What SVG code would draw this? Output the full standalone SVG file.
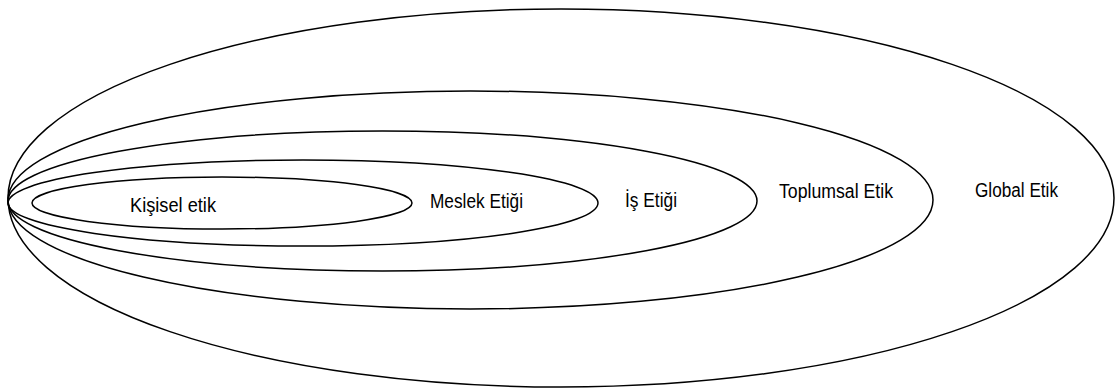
<svg xmlns="http://www.w3.org/2000/svg" width="1116" height="392" viewBox="0 0 1116 392">
<style>
.ring{fill:none;stroke:#000;stroke-width:1.5}
.lbl{font-family:"Liberation Sans",Arial,sans-serif;font-size:20px;fill:#000}
</style>
<rect width="1116" height="392" fill="#fff"/>
<g id="global"><ellipse class="ring" cx="561" cy="198" rx="553" ry="189"/><text class="lbl" x="975" y="197" textLength="83" lengthAdjust="spacingAndGlyphs">Global Etik</text></g>
<g id="toplumsal"><ellipse class="ring" cx="470.5" cy="200" rx="462.5" ry="109"/><text class="lbl" x="779" y="198" textLength="114" lengthAdjust="spacingAndGlyphs">Toplumsal Etik</text></g>
<g id="is"><ellipse class="ring" cx="382.5" cy="201" rx="374.5" ry="70"/><text class="lbl" x="625" y="207" textLength="52" lengthAdjust="spacingAndGlyphs">İş Etiği</text></g>
<g id="meslek"><ellipse class="ring" cx="303" cy="203" rx="295" ry="43"/><text class="lbl" x="430" y="208" textLength="93" lengthAdjust="spacingAndGlyphs">Meslek Etiği</text></g>
<g id="kisisel"><ellipse class="ring" cx="222" cy="203" rx="190" ry="26"/><text class="lbl" x="130" y="212" textLength="86" lengthAdjust="spacingAndGlyphs">Kişisel etik</text></g>
<g id="connectors"></g>
</svg>
